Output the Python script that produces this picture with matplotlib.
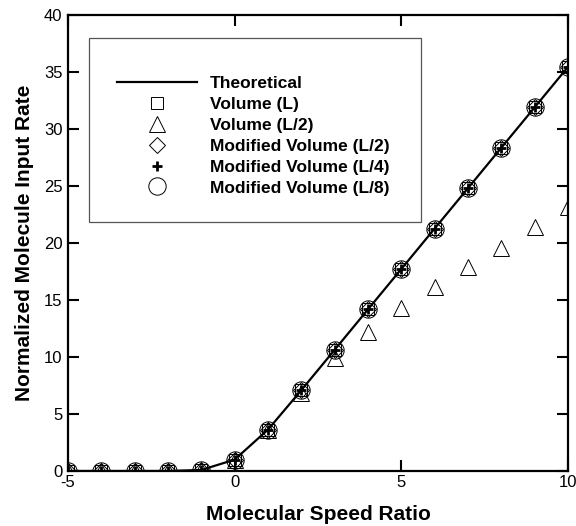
import matplotlib
matplotlib.use("Agg")
import matplotlib.pyplot as plt
from matplotlib.patches import Rectangle

plt.rcParams['font.family'] = ['Liberation Sans', 'DejaVu Sans']
plt.rcParams['axes.unicode_minus'] = False

# data
speed_ratio = [-5, -4, -3, -2, -1, 0, 1, 2, 3, 4, 5, 6, 7, 8, 9, 10]
theoretical = [0.0, 0.0, 0.0, 0.0, 0.09, 1.0, 3.63, 7.09, 10.63, 14.18, 17.72, 21.27, 24.81, 28.36, 31.9, 35.45]
volume_L = [0.0, 0.0, 0.0, 0.0, 0.09, 1.0, 3.63, 7.09, 10.63, 14.18, 17.72, 21.27, 24.81, 28.36, 31.9, 35.45]
volume_L2 = [0.0, 0.0, 0.0, 0.0, 0.09, 1.0, 3.6, 6.8, 9.9, 12.2, 14.3, 16.1, 17.9, 19.6, 21.4, 23.2]
mod_L2 = [0.0, 0.0, 0.0, 0.0, 0.09, 1.0, 3.63, 7.09, 10.63, 14.18, 17.72, 21.27, 24.81, 28.36, 31.9, 35.45]
mod_L4 = [0.0, 0.0, 0.0, 0.0, 0.09, 1.0, 3.63, 7.09, 10.63, 14.18, 17.72, 21.27, 24.81, 28.36, 31.9, 35.45]
mod_L8 = [0.0, 0.0, 0.0, 0.0, 0.09, 1.0, 3.63, 7.09, 10.63, 14.18, 17.72, 21.27, 24.81, 28.36, 31.9, 35.45]

x_ticks = [-5, 0, 5, 10]
y_ticks = [0, 5, 10, 15, 20, 25, 30, 35, 40]

W, H = 576, 526
fig = plt.figure(figsize=(W / 100, H / 100), dpi=100)
ax = fig.add_axes([68 / W, 1 - 471 / H, 500 / W, 456 / H])

line, = ax.plot(speed_ratio, theoretical, color='black', lw=1.6, zorder=2)
sq, = ax.plot(speed_ratio, volume_L, ls='none', marker='s', ms=8.5, mfc='none', mec='black', mew=0.7, zorder=3)
tri, = ax.plot(speed_ratio, volume_L2, ls='none', marker='^', ms=11, mfc='none', mec='black', mew=0.7, zorder=3)
dia, = ax.plot(speed_ratio, mod_L2, ls='none', marker='D', ms=8, mfc='none', mec='black', mew=0.7, zorder=3)
plus, = ax.plot(speed_ratio, mod_L4, ls='none', marker='+', ms=7.5, mec='black', mew=2, zorder=3)
circ, = ax.plot(speed_ratio, mod_L8, ls='none', marker='o', ms=12.5, mfc='none', mec='black', mew=0.7, zorder=3)

ax.set_xlim(-5, 10)
ax.set_ylim(0, 40)
ax.set_xticks(x_ticks)
ax.set_yticks(y_ticks)
ax.tick_params(direction='in', length=8, width=1.5, top=True, right=True, labelsize=12)
ax.tick_params(axis='x', pad=3)
ax.tick_params(axis='y', pad=4)
for s in ax.spines.values():
    s.set_linewidth(1.6)

ax.set_xlabel('Molecular Speed Ratio', fontsize=15, fontweight='bold', labelpad=11)
ax.set_ylabel('Normalized Molecule Input Rate', fontsize=15, fontweight='bold', labelpad=7)

# legend frame
fig.add_artist(Rectangle((89 / W, 1 - 222 / H), (421 - 89) / W, (222 - 38) / H,
                         transform=fig.transFigure, fill=False, ec='#555555', lw=0.9))

labels = ['Theoretical', 'Volume (L)', 'Volume (L/2)', 'Modified Volume (L/2)',
          'Modified Volume (L/4)', 'Modified Volume (L/8)']
leg = fig.legend([line, sq, tri, dia, plus, circ], labels, loc='upper left',
                 bbox_to_anchor=(117 / W, 1 - 76 / H), frameon=False, borderpad=0,
                 borderaxespad=0, handlelength=4.6, handletextpad=0.75, labelspacing=0.33,
                 prop={'weight': 'bold', 'size': 12.5})

fig.savefig('out.png', dpi=100)
